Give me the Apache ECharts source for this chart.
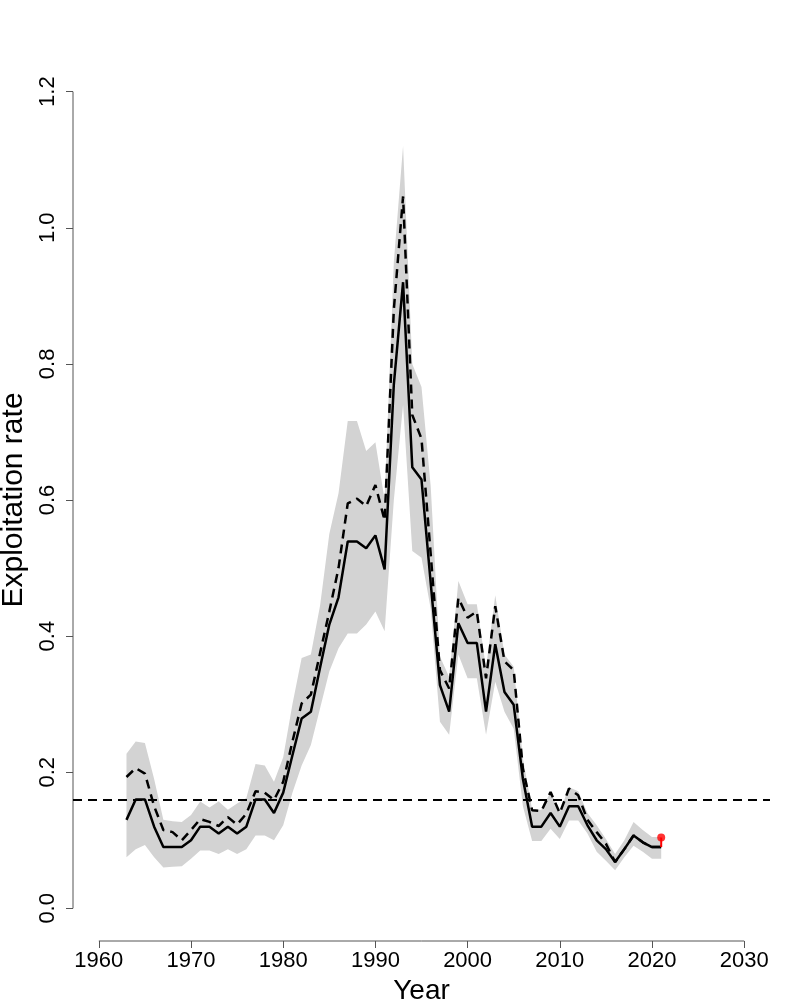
<!DOCTYPE html>
<html>
<head>
<meta charset="utf-8">
<script src="https://cdn.jsdelivr.net/npm/echarts@6/dist/echarts.min.js"></script>
<style>
html,body{margin:0;padding:0;background:#fff;}
#main{width:800px;height:1000px;}
</style>
</head>
<body>
<div id="main"></div>
<script>
// years of the assessment
var years = [1963,1964,1965,1966,1967,1968,1969,1970,1971,1972,1973,1974,1975,1976,1977,1978,1979,1980,
    1981,1982,1983,1984,1985,1986,1987,1988,1989,1990,1991,1992,1993,1994,1995,1996,1997,1998,1999,2000,
    2001,2002,2003,2004,2005,2006,2007,2008,2009,2010,2011,2012,2013,2014,2015,2016,2017,2018,2019,2020,2021];
// solid line
var rate = [0.13,0.16,0.16,0.12,0.09,0.09,0.09,0.10,0.12,0.12,0.11,0.12,0.11,0.12,0.16,0.16,0.14,0.17,
    0.225,0.279,0.289,0.354,0.417,0.457,0.539,0.539,0.529,0.548,0.498,0.77,0.92,0.648,0.63,0.478,0.328,0.289,0.419,0.39,
    0.39,0.289,0.388,0.318,0.299,0.19,0.12,0.12,0.14,0.12,0.15,0.15,0.122,0.10,0.087,0.068,0.087,0.107,0.097,0.09,0.09];
// dashed line
var rateAlt = [0.193,0.206,0.198,0.15,0.115,0.112,0.10,0.115,0.131,0.127,0.121,0.134,0.123,0.139,0.172,0.17,0.159,0.186,
    0.245,0.301,0.314,0.375,0.436,0.50,0.595,0.602,0.591,0.622,0.57,0.88,1.046,0.725,0.69,0.52,0.35,0.323,0.456,0.427,
    0.436,0.338,0.444,0.363,0.35,0.205,0.144,0.143,0.171,0.14,0.176,0.166,0.13,0.112,0.095,0.068,0.087,0.107,0.097,0.09,0.09];
// grey band
var upper = [0.227,0.245,0.243,0.19,0.13,0.128,0.127,0.137,0.157,0.148,0.157,0.145,0.154,0.162,0.212,0.21,0.186,0.222,
    0.30,0.368,0.373,0.445,0.55,0.61,0.716,0.716,0.672,0.685,0.60,0.95,1.12,0.80,0.766,0.62,0.37,0.34,0.481,0.447,
    0.447,0.353,0.46,0.373,0.355,0.22,0.145,0.145,0.171,0.142,0.178,0.172,0.14,0.122,0.102,0.08,0.10,0.127,0.115,0.105,0.105];
var lower = [0.075,0.087,0.093,0.075,0.06,0.061,0.062,0.073,0.085,0.085,0.08,0.087,0.08,0.087,0.107,0.107,0.10,0.122,
    0.17,0.21,0.24,0.294,0.348,0.382,0.404,0.404,0.417,0.436,0.407,0.60,0.74,0.525,0.515,0.44,0.274,0.255,0.373,0.338,
    0.338,0.255,0.333,0.289,0.264,0.15,0.099,0.099,0.117,0.102,0.129,0.129,0.11,0.083,0.07,0.056,0.075,0.092,0.083,0.073,0.073];
var refLevel = 0.16;
var lastYear = 2021;
var lastValue = 0.104;
var xTicks = [1960,1970,1980,1990,2000,2010,2020,2030];
var yTicks = [0,0.2,0.4,0.6,0.8,1.0,1.2];

// R style: 4% padding around the axis ranges
var xMin = 1957.2, xMax = 2032.8;
var yMin = -0.048, yMax = 1.248;

var font = 'Liberation Sans, Arial, Helvetica, sans-serif';
var myChart = echarts.init(document.getElementById('main'));

var option = {
    animation: false,
    grid: {left: 73, right: 30, top: 59, bottom: 59, containLabel: false, outerBoundsMode: 'none'},
    xAxis: {
        type: 'value',
        min: xMin,
        max: xMax,
        axisLine: {show: false, onZero: false},
        splitLine: {show: false},
        axisTick: {show: true, customValues: xTicks, length: 7, lineStyle: {color: '#555', width: 1}},
        axisLabel: {
            customValues: xTicks, fontSize: 22, color: '#000', margin: 9, fontFamily: font,
            formatter: function (v) { return String(v); }
        },
        name: 'Year',
        nameLocation: 'middle',
        nameGap: 28,
        nameTextStyle: {fontSize: 28, color: '#000', fontFamily: font}
    },
    yAxis: {
        type: 'value',
        min: yMin,
        max: yMax,
        axisLine: {show: false, onZero: false},
        splitLine: {show: false},
        axisTick: {show: true, customValues: yTicks, length: 7, lineStyle: {color: '#555', width: 1}},
        axisLabel: {
            customValues: yTicks, fontSize: 22, color: '#000', margin: 14, rotate: 90, fontFamily: font,
            formatter: function (v) { return v.toFixed(1); }
        },
        name: 'Exploitation rate',
        nameLocation: 'middle',
        nameGap: 42,
        nameTextStyle: {fontSize: 30, color: '#000', fontFamily: font}
    },
    series: [
        {
            // uncertainty band
            type: 'custom',
            z: 1,
            silent: true,
            data: years.map(function (y, i) { return [y, lower[i], upper[i]]; }),
            renderItem: function (params, api) {
                if (params.dataIndex !== 0) return null;
                var pts = [];
                for (var i = 0; i < years.length; i++) pts.push(api.coord([years[i], upper[i]]));
                for (var j = years.length - 1; j >= 0; j--) pts.push(api.coord([years[j], lower[j]]));
                return {type: 'polygon', shape: {points: pts}, style: {fill: '#d3d3d3', stroke: null}};
            }
        },
        {
            type: 'line',
            z: 3,
            symbol: 'none',
            silent: true,
            lineStyle: {color: '#000', width: 2.5, type: [9, 6]},
            data: years.map(function (y, i) { return [y, rateAlt[i]]; }),
            markLine: {
                silent: true,
                symbol: 'none',
                label: {show: false},
                lineStyle: {color: '#000', width: 1.8, type: [9, 6]},
                data: [{yAxis: refLevel}]
            }
        },
        {
            type: 'line',
            z: 4,
            symbol: 'none',
            silent: true,
            lineStyle: {color: '#000', width: 2.5},
            data: years.map(function (y, i) { return [y, rate[i]]; })
        },
        {
            // last value
            type: 'line',
            z: 5,
            silent: true,
            symbol: 'none',
            lineStyle: {color: '#ff0000', width: 2},
            data: [[lastYear, rate[rate.length - 1]], [lastYear, lastValue]]
        },
        {
            type: 'scatter',
            z: 6,
            silent: true,
            symbolSize: 8,
            itemStyle: {color: '#ff0000'},
            data: [[lastYear, lastValue]]
        },
        {
            // x axis line (from first to last tick)
            type: 'line',
            z: 2,
            silent: true,
            clip: false,
            symbol: 'none',
            lineStyle: {color: '#555', width: 1},
            data: [[xTicks[0], yMin], [xTicks[xTicks.length - 1], yMin]]
        },
        {
            // y axis line
            type: 'line',
            z: 2,
            silent: true,
            clip: false,
            symbol: 'none',
            lineStyle: {color: '#555', width: 1},
            data: [[xMin, yTicks[0]], [xMin, yTicks[yTicks.length - 1]]]
        }
    ]
};
myChart.setOption(option);
</script>
</body>
</html>
